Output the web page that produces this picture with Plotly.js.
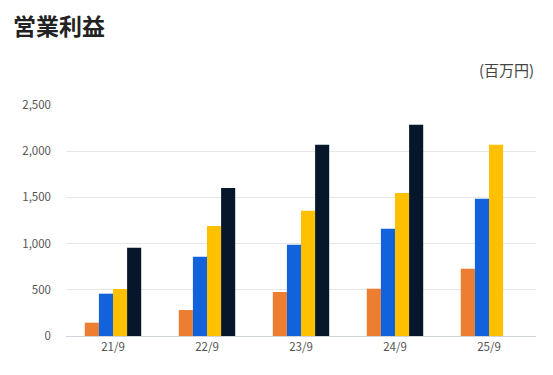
<!DOCTYPE html>
<html><head><meta charset="utf-8">
<script src="https://cdn.plot.ly/plotly-3.0.1.min.js"></script>
<style>body{margin:0;background:#fff}#c{width:553px;height:375px}</style>
</head><body><div id="c"></div>
<script>
const categories = ["21/9","22/9","23/9","24/9","25/9"];
const series1 = [144, 281, 476, 512, 728];
const series2 = [458, 858, 988, 1161, 1486];
const series3 = [509, 1190, 1356, 1548, 2070];
const series4 = [956, 1602, 2070, 2287, null];
const colors = ["#ED7D31", "#1263DB", "#FFC000", "#07172B"];
const yTicks = [0, 500, 1000, 1500, 2000, 2500];
const yTickText = ["0", "500", "1,000", "1,500", "2,000", "2,500"];

const data = [series1, series2, series3, series4].map((v, i) => ({
  type: "bar", x: categories, y: v, marker: {color: colors[i]}, hoverinfo: "skip"
}));

const layout = {
  width: 553, height: 375,
  margin: {l: 66, r: 17, t: 105, b: 39},
  paper_bgcolor: "#fff", plot_bgcolor: "#fff",
  showlegend: false,
  barmode: "group", bargap: 0.4, bargroupgap: 0,
  font: {family: "Noto Sans CJK JP, Noto Sans, sans-serif", color: "#555"},
  xaxis: {
    type: "category", showgrid: false, showline: true, linecolor: "#cfd3da", linewidth: 1,
    ticks: "", tickfont: {size: 11.5, color: "#555"}, zeroline: false
  },
  yaxis: {
    range: [0, 2500], tickvals: yTicks, ticktext: yTickText,
    showgrid: true, gridcolor: "#e6e6e6", zeroline: false, showline: false,
    tickfont: {size: 11.5, color: "#555"}, ticks: "", ticklabelstandoff: 14, fixedrange: true
  },
  annotations: [
    {text: "<b>営業利益</b>", xref: "paper", yref: "paper", x: -0.117, y: 1.346, xanchor: "left", yanchor: "middle",
     showarrow: false, font: {size: 23, color: "#222", family: "Noto Sans CJK JP, sans-serif"}},
    {text: "(百万円)", xref: "paper", yref: "paper", x: 1.0, y: 1.152, xanchor: "right", yanchor: "middle",
     showarrow: false, font: {size: 15, color: "#444", family: "Noto Sans CJK JP, sans-serif"}}
  ]
};
Plotly.newPlot("c", data, layout, {displayModeBar: false, staticPlot: true});
</script></body></html>
